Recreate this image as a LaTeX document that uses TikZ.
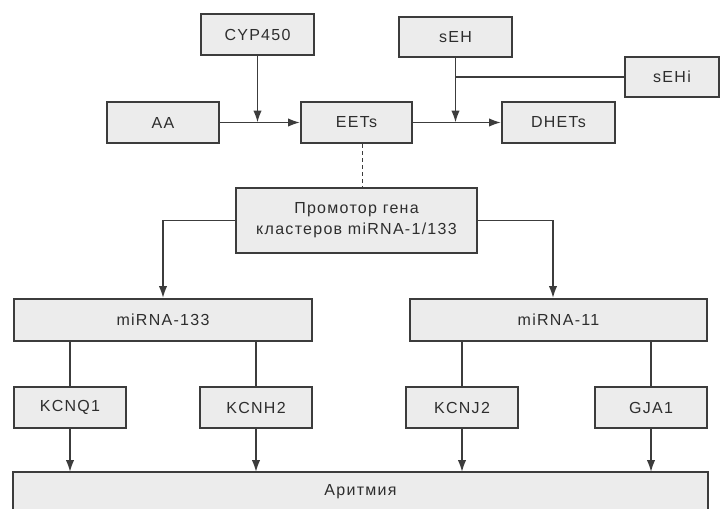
\documentclass[tikz,border=0pt]{standalone}
\usepackage{fontspec}
\setmainfont{Liberation Sans}[LetterSpace=8]
\usetikzlibrary{arrows.meta,calc}
\definecolor{boxfill}{HTML}{ECECEC}
\definecolor{edge}{HTML}{3C3C3C}
\definecolor{ink}{HTML}{2E2E2E}
\begin{document}
\begin{tikzpicture}[x=1pt,y=-1pt,
  box/.style={draw=edge,line width=2pt,fill=boxfill,inner sep=0pt,
    text=ink,font=\fontsize{16}{21}\selectfont,align=center},
  conn/.style={draw=edge,line width=1.8pt},
  arr/.style={conn,-{Latex[length=12pt,width=8.5pt]}}]
\useasboundingbox (0,0) rectangle (726,509);
\fill[white] (0,0) rectangle (726,509);
% top row
\node[box,minimum width=113pt,minimum height=41pt] (cyp) at (257.5,34.5) {CYP450};
\node[box,minimum width=113pt,minimum height=40pt] (seh) at (455.5,37) {sEH};
\node[box,minimum width=94pt,minimum height=40pt] (sehi) at (672,77) {sEHi};
% second row
\node[box,minimum width=112pt,minimum height=41pt] (aa) at (163,122.5) {AA};
\node[box,minimum width=111pt,minimum height=41pt] (eets) at (356.5,122.5) {EETs};
\node[box,minimum width=113pt,minimum height=41pt] (dhets) at (558.5,122.5) {DHETs};
% promoter
\node[box,minimum width=241pt,minimum height=65pt] (prom) at (356.5,220.5) {Промотор гена\\кластеров miRNA-1/133};
% miRNA
\node[box,minimum width=298pt,minimum height=42pt] (m133) at (163,320) {miRNA-133};
\node[box,minimum width=297pt,minimum height=42pt] (m11) at (558.5,320) {miRNA-11};
% genes
\node[box,minimum width=112pt,minimum height=41pt] (k1) at (70,407.5) {KCNQ1};
\node[box,minimum width=112pt,minimum height=41pt] (k2) at (256,407.5) {KCNH2};
\node[box,minimum width=112pt,minimum height=41pt] (k3) at (462,407.5) {KCNJ2};
\node[box,minimum width=112pt,minimum height=41pt] (k4) at (651,407.5) {GJA1};
% arrhythmia (cut off at the bottom)
\node[box,draw=none,minimum width=693pt,minimum height=38pt] (arh) at (360.5,492) {Аритмия};
\draw[edge,line width=2pt] (arh.south west) -- (arh.north west) -- (arh.north east) -- (arh.south east);
% connectors
\draw[arr] (aa.east) -- (eets.west);
\draw[arr] (eets.east) -- (dhets.west);
\draw[arr] (cyp.south) -- (cyp.south |- aa.east);
\draw[arr] (seh.south) -- (seh.south |- eets.east);
\draw[conn] (sehi.west) -- (sehi.west -| seh.south);
\draw[conn,dash pattern=on 4pt off 3pt] ([xshift=6pt]eets.south) -- ([xshift=6pt]eets.south |- prom.north);
\draw[arr] (prom.west) -| (m133.north);
\draw[arr] (prom.east) -| ([xshift=-5.5pt]m11.north);
\draw[conn] (k1.north) -- (k1.north |- m133.south);
\draw[conn] (k2.north) -- (k2.north |- m133.south);
\draw[conn] (k3.north) -- (k3.north |- m11.south);
\draw[conn] (k4.north) -- (k4.north |- m11.south);
\draw[arr] (k1.south) -- (k1.south |- arh.north);
\draw[arr] (k2.south) -- (k2.south |- arh.north);
\draw[arr] (k3.south) -- (k3.south |- arh.north);
\draw[arr] (k4.south) -- (k4.south |- arh.north);
\end{tikzpicture}
\end{document}
